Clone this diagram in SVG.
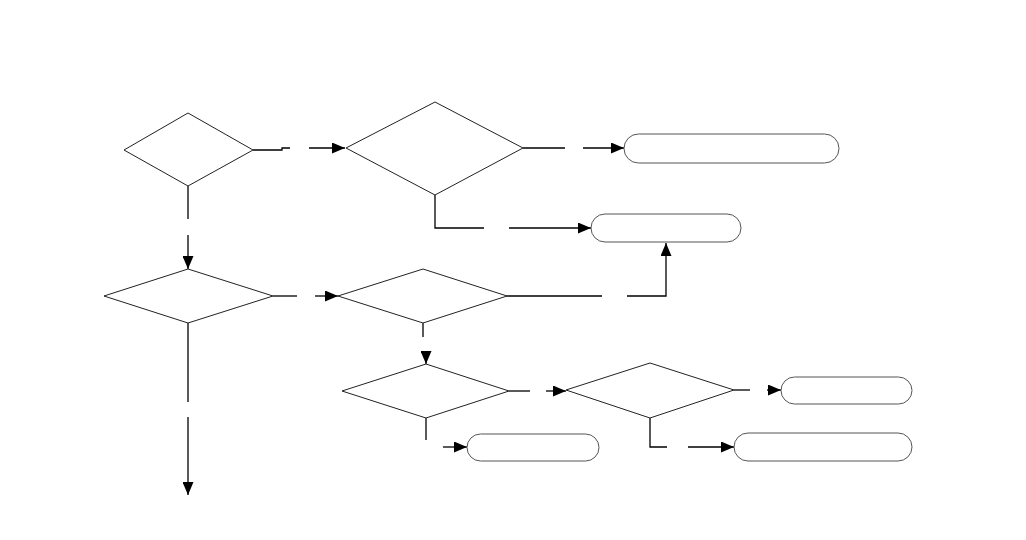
<svg xmlns="http://www.w3.org/2000/svg" width="1026" height="540" viewBox="0 0 1026 540">
<style>
.d{fill:#fff;stroke:#222;stroke-width:1}
.t{fill:#fff;stroke:#555;stroke-width:1}
.c{fill:none;stroke:#000;stroke-width:1.3}
</style>
<defs>
<marker id="ah" viewBox="0 0 13 11" refX="13" refY="5.5" markerWidth="13" markerHeight="11" markerUnits="userSpaceOnUse" orient="auto">
<path d="M0,0 L13,5.5 L0,11 Z" fill="#000"/>
</marker>
</defs>
<rect width="1026" height="540" fill="#fff"/>
<g id="connectors">
<polyline class="c" points="253,150 282,150 282,148 290,148"/>
<line class="c" x1="309" y1="148" x2="345" y2="148" marker-end="url(#ah)"/>
<line class="c" x1="523" y1="148" x2="565" y2="148"/>
<line class="c" x1="583" y1="148" x2="624" y2="148" marker-end="url(#ah)"/>
<polyline class="c" points="435,195 435,228 484,228"/>
<line class="c" x1="509" y1="228" x2="591" y2="228" marker-end="url(#ah)"/>
<line class="c" x1="188" y1="186" x2="188" y2="219"/>
<line class="c" x1="188" y1="235" x2="188" y2="269" marker-end="url(#ah)"/>
<line class="c" x1="273" y1="296" x2="297" y2="296"/>
<line class="c" x1="315" y1="296" x2="338" y2="296" marker-end="url(#ah)"/>
<line class="c" x1="507" y1="296" x2="602" y2="296"/>
<polyline class="c" points="627,296 666,296 666,243" marker-end="url(#ah)"/>
<line class="c" x1="423" y1="323" x2="423" y2="337"/>
<line class="c" x1="426" y1="351" x2="426" y2="364" marker-end="url(#ah)"/>
<line class="c" x1="188" y1="323" x2="188" y2="402"/>
<line class="c" x1="188" y1="417" x2="188" y2="495" marker-end="url(#ah)"/>
<line class="c" x1="509" y1="391" x2="530" y2="391"/>
<line class="c" x1="546" y1="391" x2="566" y2="391" marker-end="url(#ah)"/>
<line class="c" x1="426" y1="418" x2="426" y2="440"/>
<line class="c" x1="443" y1="447" x2="467" y2="447" marker-end="url(#ah)"/>
<line class="c" x1="734" y1="390" x2="750" y2="390"/>
<line class="c" x1="767" y1="390" x2="781" y2="390" marker-end="url(#ah)"/>
<polyline class="c" points="650,418 650,447 667,447"/>
<line class="c" x1="688" y1="447" x2="734" y2="447" marker-end="url(#ah)"/>
</g>
<g id="d1"><polygon class="d" points="124,150 188,113 253,150 188,186"/></g>
<g id="d2"><polygon class="d" points="346,148 435,102 523,148 435,195"/></g>
<g id="d3"><polygon class="d" points="104,296 188,269 273,296 188,323"/></g>
<g id="d4"><polygon class="d" points="338,296 423,269 507,296 423,323"/></g>
<g id="d5"><polygon class="d" points="342,391 426,364 509,391 426,418"/></g>
<g id="d6"><polygon class="d" points="566,390 650,363 734,390 650,418"/></g>
<g id="t1"><rect class="t" x="624" y="134" width="215" height="29" rx="14.5"/></g>
<g id="t2"><rect class="t" x="591" y="214" width="150" height="28" rx="14"/></g>
<g id="t3"><rect class="t" x="467" y="434" width="132" height="27" rx="13.5"/></g>
<g id="t4"><rect class="t" x="781" y="377" width="131" height="27" rx="13.5"/></g>
<g id="t5"><rect class="t" x="734" y="433" width="178" height="28" rx="14"/></g>
</svg>
